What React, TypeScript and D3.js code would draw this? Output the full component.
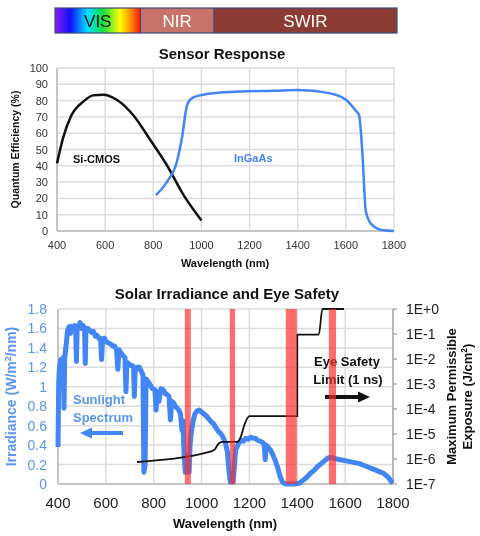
import React from 'react';
import * as d3 from 'd3';

// spectral bands shown above the charts (nm edges)
const bandEdges = [400, 750, 1050, 1800];
const bandNames = ['VIS', 'NIR', 'SWIR'];

// sensor quantum efficiency (%)
const siCmos: [number, number][] = [
  [400, 41.5], [425, 57], [460, 71], [510, 79.5], [550, 83.2], [592, 83.6],
  [648, 80.5], [717, 71], [787, 56], [856, 40.5], [926, 22], [1000, 6.5],
];
const ingaas: [number, number][] = [
  [811, 22], [856, 30], [898, 42.5], [919, 57], [940, 77], [961, 81.5],
  [1023, 84], [1163, 85.6], [1300, 86], [1400, 86.5], [1531, 84.6],
  [1600, 80.5], [1640, 74], [1655, 71], [1669, 47], [1683, 12],
  [1710, 3.5], [1756, 0.4], [1800, 0],
];

// solar irradiance (W/m2/nm)
const solar: [number, number][] = [
  [400, 0.38], [403, 1.05], [406, 1.2], [412, 1.28], [418, 1.22], [422, 1.3], [425, 0.78], [428, 1.3],
  [435, 1.45], [440, 1.58], [447, 1.62], [452, 1.55], [456, 1.62], [463, 1.6], [470, 1.63], [474, 1.58],
  [477, 1.26], [480, 1.6], [486, 1.62], [492, 1.66], [498, 1.6], [505, 1.63], [511, 1.6], [514, 1.24],
  [517, 1.6], [525, 1.6], [532, 1.58], [540, 1.56], [548, 1.57], [556, 1.52], [563, 1.53], [570, 1.5],
  [578, 1.5], [582, 1.28], [586, 1.48], [594, 1.5], [600, 1.47], [610, 1.45], [620, 1.44], [628, 1.42],
  [636, 1.42], [645, 1.38], [650, 1.18], [655, 1.38], [663, 1.35], [672, 1.32], [680, 1.3], [684, 0.95],
  [688, 1.25], [695, 1.24], [703, 1.22], [710, 1.22], [716, 1.2], [719, 0.9], [722, 1.15], [730, 1.2],
  [740, 1.2], [748, 1.16], [755, 1.12], [759, 0.12], [764, 0.2], [768, 1.08], [775, 1.06], [785, 1.02],
  [795, 0.98], [805, 0.97], [810, 0.76], [815, 0.95], [822, 0.85], [830, 0.98], [840, 0.97], [848, 0.93],
  [856, 0.92], [864, 0.9], [870, 0.66], [875, 0.85], [882, 0.84], [890, 0.8], [898, 0.78], [905, 0.76],
  [912, 0.72], [918, 0.55], [922, 0.65], [927, 0.3], [932, 0.12], [938, 0.15], [944, 0.3], [948, 0.12],
  [952, 0.4], [958, 0.55], [965, 0.65], [972, 0.72], [980, 0.75], [990, 0.76], [1000, 0.74], [1010, 0.72],
  [1020, 0.7], [1030, 0.67], [1040, 0.64], [1050, 0.62], [1060, 0.58], [1070, 0.54], [1080, 0.52],
  [1090, 0.48], [1100, 0.42], [1108, 0.33], [1114, 0.15], [1120, 0.02], [1126, 0.05], [1132, 0.02],
  [1138, 0.2], [1142, 0.35], [1148, 0.38], [1155, 0.42], [1165, 0.45], [1175, 0.44], [1185, 0.47],
  [1195, 0.46], [1205, 0.48], [1215, 0.47], [1225, 0.47], [1235, 0.45], [1245, 0.44], [1255, 0.43],
  [1262, 0.4], [1266, 0.25], [1270, 0.4], [1278, 0.38], [1288, 0.35], [1298, 0.3], [1308, 0.24],
  [1318, 0.17], [1328, 0.08], [1338, 0.02], [1350, 0], [1370, 0], [1390, 0], [1410, 0.01], [1425, 0.04],
  [1440, 0.07], [1455, 0.11], [1470, 0.14], [1485, 0.18], [1500, 0.21], [1515, 0.24], [1530, 0.27],
  [1545, 0.27], [1560, 0.26], [1580, 0.25], [1600, 0.24], [1620, 0.23], [1640, 0.22], [1660, 0.21],
  [1680, 0.19], [1700, 0.17], [1720, 0.15], [1740, 0.13], [1760, 0.11], [1780, 0.07], [1795, 0.02],
  [1800, 0.01],
];

// eye safety limit, max permissible exposure (J/cm2), 1 ns pulse
const eyeLimit: [number, number][] = [
  [730, 7.6e-7], [1040, 2.0e-6], [1055, 2.4e-6], [1070, 4.0e-6], [1085, 4.8e-6], [1150, 4.8e-6],
  [1162, 7.0e-6], [1180, 2.5e-5], [1200, 5.2e-5], [1400, 5.2e-5], [1400, 9.5e-2], [1490, 9.5e-2],
  [1505, 1], [1595, 1],
];

// water absorption bands (nm)
const absorption: [number, number][] = [[930, 955], [1118, 1140], [1352, 1398], [1532, 1562]];

const xTicks = [400, 600, 800, 1000, 1200, 1400, 1600, 1800];
const qeTicks = d3.range(0, 101, 10);
const irrTicks = [0, 0.2, 0.4, 0.6, 0.8, 1, 1.2, 1.4, 1.6, 1.8];
const mpeTicks = [1, 1e-1, 1e-2, 1e-3, 1e-4, 1e-5, 1e-6, 1e-7];
const mpeLabels = ['1E+0', '1E-1', '1E-2', '1E-3', '1E-4', '1E-5', '1E-6', '1E-7'];

const FONT = "'Liberation Sans', Arial, sans-serif";
const BLUE = '#4285f4';
const BLUE_TEXT = '#5a95f2';
const GRID = '#dcdcdc';

// simple block arrow: shaft plus triangular head
function Arrow({ x1, x2, y, color }: { x1: number; x2: number; y: number; color: string }) {
  const dir = Math.sign(x2 - x1);
  const head = 12;
  const xs = x2 - dir * head;
  return (
    <g>
      <line x1={x1} x2={xs} y1={y} y2={y} stroke={color} strokeWidth={4} />
      <path d={`M${xs},${y - 5.5}L${x2},${y}L${xs},${y + 5.5}Z`} fill={color} />
    </g>
  );
}

export default function App() {
  const xBand = d3.scaleLinear().domain([400, 1800]).range([55, 397]);
  const xTop = d3.scaleLinear().domain([400, 1800]).range([57, 394]);
  const yTop = d3.scaleLinear().domain([0, 100]).range([231, 68]);

  const xBot = d3.scaleLinear().domain([400, 1800]).range([58, 393]);
  const yIrr = d3.scaleLinear().domain([0, 1.8]).range([484, 309]);
  const yMpe = d3.scaleLog().domain([1e-7, 1]).range([484, 309]);

  const qeLine = d3.line<[number, number]>()
    .x(d => xTop(d[0])).y(d => yTop(d[1])).curve(d3.curveMonotoneX);
  const solarLine = d3.line<[number, number]>()
    .x(d => xBot(d[0])).y(d => yIrr(d[1]));
  const eyeLine = d3.line<[number, number]>()
    .x(d => xBot(d[0])).y(d => yMpe(d[1])).curve(d3.curveMonotoneX);

  const bandFills = ['url(#visGrad)', '#c8736a', '#8c3b35'];
  const midBot = (yIrr(0) + yIrr(1.8)) / 2;

  return (
    <div style={{ position: 'fixed', left: 0, top: 0, width: 480, height: 536, overflow: 'hidden' }}>
      <svg width={480} height={536} style={{ display: 'block', fontFamily: FONT }}>
        <defs>
          <linearGradient id="visGrad" x1="0" x2="1" y1="0" y2="0">
            <stop offset="0" stopColor="#8a1cf0" />
            <stop offset="0.18" stopColor="#1010ff" />
            <stop offset="0.38" stopColor="#00e0ff" />
            <stop offset="0.56" stopColor="#10e040" />
            <stop offset="0.76" stopColor="#ffff00" />
            <stop offset="0.9" stopColor="#ff8000" />
            <stop offset="1" stopColor="#ff1000" />
          </linearGradient>
        </defs>

        {/* spectral band strip */}
        {bandNames.map((name, i) => (
          <g key={name}>
            <rect x={xBand(bandEdges[i])} y={8} width={xBand(bandEdges[i + 1]) - xBand(bandEdges[i])} height={25}
              fill={bandFills[i]} />
            <text x={(xBand(bandEdges[i]) + xBand(bandEdges[i + 1])) / 2} y={27} textAnchor="middle"
              fontSize={17} fill={i === 0 ? '#111' : '#fff'}>{name}</text>
          </g>
        ))}
        <rect x={xBand(400)} y={8} width={xBand(1800) - xBand(400)} height={25} fill="none" stroke="#3a4a7a" strokeWidth={1.2} />
        {bandEdges.slice(1, 3).map(e => (
          <line key={e} x1={xBand(e)} x2={xBand(e)} y1={8} y2={33} stroke="#3a4a7a" strokeWidth={1} />
        ))}

        {/* ---------- Sensor Response ---------- */}
        <text x={222} y={59} textAnchor="middle" fontSize={15} fontWeight="bold" fill="#111">Sensor Response</text>
        {qeTicks.map(t => (
          <line key={t} x1={xTop(400)} x2={xTop(1800)} y1={yTop(t)} y2={yTop(t)} stroke={GRID} strokeWidth={1.5} />
        ))}
        {xTicks.map(t => (
          <line key={t} x1={xTop(t)} x2={xTop(t)} y1={yTop(0)} y2={yTop(100)} stroke={GRID} strokeWidth={1.5} />
        ))}
        <line x1={xTop(400)} x2={xTop(1800)} y1={yTop(0)} y2={yTop(0)} stroke="#bbb" strokeWidth={1.5} />
        <line x1={xTop(400)} x2={xTop(400)} y1={yTop(0)} y2={yTop(100)} stroke="#bbb" strokeWidth={1.5} />
        {qeTicks.map(t => (
          <text key={t} x={48} y={yTop(t) + 4} textAnchor="end" fontSize={11} fill="#333">{t}</text>
        ))}
        {xTicks.map(t => (
          <text key={t} x={xTop(t)} y={249} textAnchor="middle" fontSize={11} fill="#333">{t}</text>
        ))}
        <text x={225} y={267} textAnchor="middle" fontSize={11} fontWeight="bold" fill="#111">Wavelength (nm)</text>
        <text transform={`translate(19,${(yTop(0) + yTop(100)) / 2}) rotate(-90)`} textAnchor="middle"
          fontSize={10.5} fontWeight="bold" fill="#111">Quantum Efficiency (%)</text>

        <path d={qeLine(siCmos) ?? ''} fill="none" stroke="#111" strokeWidth={2.5} />
        <path d={qeLine(ingaas) ?? ''} fill="none" stroke={BLUE} strokeWidth={2.5} />
        <text x={73} y={163} fontSize={11} fontWeight="bold" fill="#111">Si-CMOS</text>
        <text x={234} y={162} fontSize={11} fontWeight="bold" fill={BLUE}>InGaAs</text>

        {/* ---------- Solar Irradiance and Eye Safety ---------- */}
        <text x={227} y={299} textAnchor="middle" fontSize={15} fontWeight="bold" fill="#111">Solar Irradiance and Eye Safety</text>
        {irrTicks.map(t => (
          <line key={t} x1={xBot(400)} x2={xBot(1800)} y1={yIrr(t)} y2={yIrr(t)} stroke={GRID} strokeWidth={1.5} />
        ))}
        {xTicks.map(t => (
          <line key={t} x1={xBot(t)} x2={xBot(t)} y1={yIrr(0)} y2={yIrr(1.8)} stroke={GRID} strokeWidth={1.5} />
        ))}
        <line x1={xBot(400)} x2={xBot(1800)} y1={yIrr(0)} y2={yIrr(0)} stroke="#bbb" strokeWidth={1.5} />
        <line x1={xBot(400)} x2={xBot(400)} y1={yIrr(0)} y2={yIrr(1.8)} stroke="#bbb" strokeWidth={1.5} />
        <line x1={xBot(1800)} x2={xBot(1800)} y1={yIrr(0)} y2={yIrr(1.8)} stroke="#999" strokeWidth={1.2} />
        {mpeTicks.map(t => (
          <line key={t} x1={xBot(1800)} x2={xBot(1800) + 4} y1={yMpe(t)} y2={yMpe(t)} stroke="#999" strokeWidth={1.2} />
        ))}
        {irrTicks.map(t => (
          <text key={t} x={47} y={yIrr(t) + 5} textAnchor="end" fontSize={14} fill={BLUE_TEXT}>{t}</text>
        ))}
        {xTicks.map(t => (
          <text key={t} x={xBot(t)} y={508} textAnchor="middle" fontSize={15} fill="#222">{t}</text>
        ))}
        {mpeTicks.map((t, i) => (
          <text key={t} x={406} y={yMpe(t) + 5} fontSize={14} fill="#222"
            fontFamily="'Liberation Sans Narrow', 'Liberation Sans', Arial, sans-serif">{mpeLabels[i]}</text>
        ))}
        <text x={225} y={528} textAnchor="middle" fontSize={13} fontWeight="bold" fill="#111">Wavelength (nm)</text>
        <text transform={`translate(16,${midBot}) rotate(-90)`} textAnchor="middle"
          fontSize={14} fontWeight="bold" fill={BLUE_TEXT}>
          Irradiance (W/m<tspan baselineShift="super" fontSize={9}>2</tspan>/nm)
        </text>
        <text transform={`translate(456,${midBot}) rotate(-90)`} textAnchor="middle"
          fontSize={13} fontWeight="bold" fill="#111">Maximum Permissible</text>
        <text transform={`translate(472,${midBot}) rotate(-90)`} textAnchor="middle"
          fontSize={13} fontWeight="bold" fill="#111">
          Exposure (J/cm<tspan baselineShift="super" fontSize={8.5}>2</tspan>)
        </text>

        <path d={solarLine(solar) ?? ''} fill="none" stroke={BLUE} strokeWidth={5} strokeLinejoin="round" />
        <path d={eyeLine(eyeLimit) ?? ''} fill="none" stroke="#111" strokeWidth={1.8} />

        <text x={73} y={404} fontSize={13} fontWeight="bold" fill={BLUE_TEXT}>Sunlight</text>
        <text x={73} y={422} fontSize={13} fontWeight="bold" fill={BLUE_TEXT}>Spectrum</text>
        <Arrow x1={123} x2={80} y={433} color={BLUE} />

        <text x={347} y={366} textAnchor="middle" fontSize={13} fontWeight="bold" fill="#111">Eye Safety</text>
        <text x={348} y={384} textAnchor="middle" fontSize={13} fontWeight="bold" fill="#111">Limit (1 ns)</text>
        <Arrow x1={325} x2={370} y={397} color="#111" />

        {absorption.map(([a, b]) => (
          <rect key={a} x={xBot(a)} y={yIrr(1.8)} width={xBot(b) - xBot(a)} height={yIrr(0) - yIrr(1.8)}
            fill="#ff2a2a" opacity={0.68} />
        ))}
      </svg>
    </div>
  );
}
